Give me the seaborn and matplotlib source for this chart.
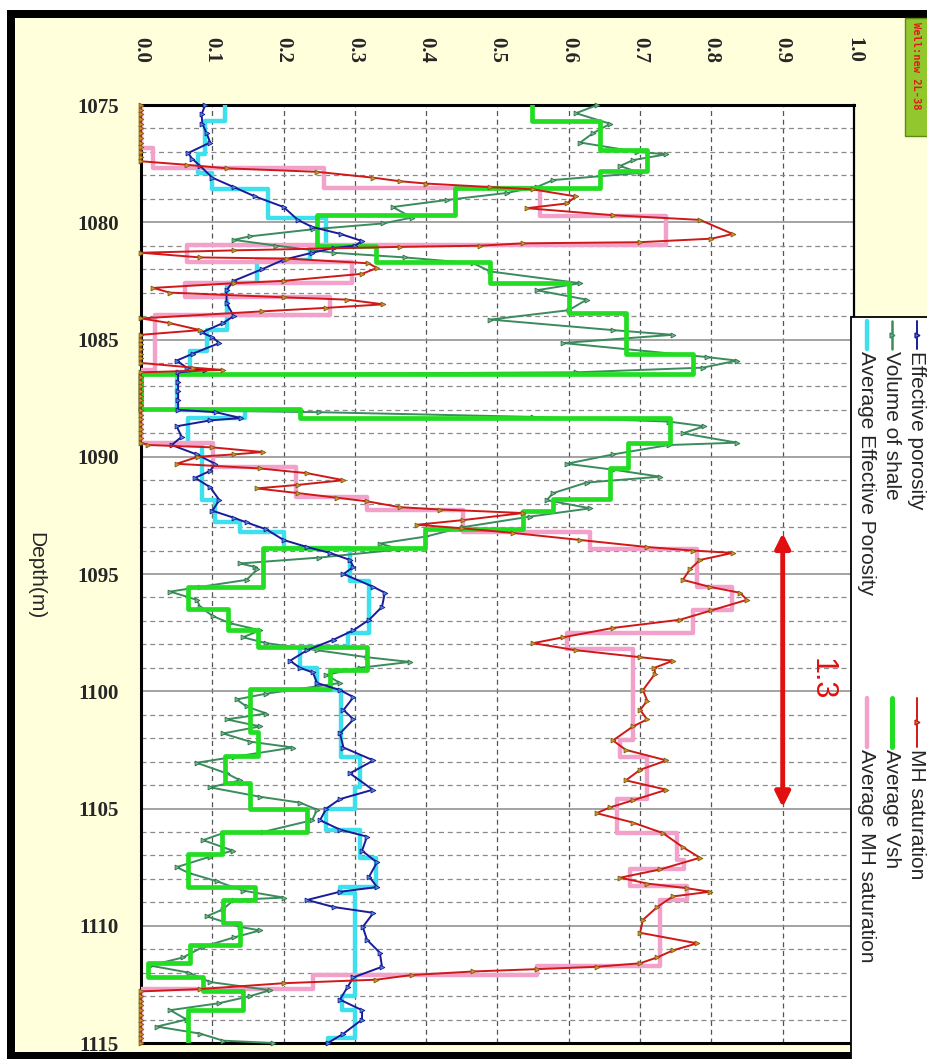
import numpy as np
import matplotlib
matplotlib.use("Agg")
import matplotlib.pyplot as plt
from matplotlib.patches import Rectangle
from matplotlib.lines import Line2D
import seaborn as sns

# ---- dados ----
depth_ticks = [1075, 1080, 1085, 1090, 1095, 1100, 1105, 1110, 1115]
value_ticks = [0.0, 0.1, 0.2, 0.3, 0.4, 0.5, 0.6, 0.7, 0.8, 0.9, 1.0]
value_labels = ["0.0", "0.1", "0.2", "0.3", "0.4", "0.5", "0.6", "0.7", "0.8", "0.9", "1.0"]

# Effective porosity
phi_depth = [1075.0, 1075.4, 1075.8, 1076.2, 1076.6, 1077.05, 1077.3, 1077.6, 1078.1, 1078.5,
             1078.9, 1079.35, 1079.9, 1080.2, 1080.5, 1080.8, 1081.0, 1081.1, 1081.3, 1081.6,
             1082.0, 1082.5, 1082.9, 1083.45, 1084.0, 1084.3, 1084.7, 1084.9, 1085.15, 1085.6,
             1085.9, 1086.2, 1086.3, 1086.4, 1086.8, 1087.2, 1087.6, 1088.0, 1088.1, 1088.35,
             1088.45, 1088.7, 1089.15, 1089.5, 1089.9, 1090.3, 1090.6, 1090.9, 1091.3, 1091.85,
             1092.3, 1092.6, 1092.8, 1093.1, 1093.55, 1093.85, 1094.1, 1094.4, 1094.7, 1095.0,
             1095.55, 1095.8, 1096.4, 1096.95, 1097.4, 1097.8, 1098.25, 1098.7, 1099.0, 1099.2,
             1099.65, 1099.95, 1100.25, 1100.8, 1101.2, 1101.8, 1102.4, 1102.95, 1103.5, 1104.2,
             1104.6, 1105.0, 1105.5, 1105.9, 1106.2, 1106.8, 1107.3, 1107.9, 1108.35, 1108.55,
             1108.9, 1109.2, 1109.45, 1110.05, 1110.6, 1111.15, 1111.75, 1112.2, 1112.6, 1113.15,
             1113.6, 1114.0, 1114.6, 1115.0]
phi_val = [0.090, 0.085, 0.086, 0.092, 0.097, 0.066, 0.072, 0.083, 0.100, 0.130,
           0.160, 0.200, 0.220, 0.240, 0.280, 0.310, 0.300, 0.270, 0.240, 0.200,
           0.170, 0.130, 0.120, 0.120, 0.130, 0.115, 0.085, 0.100, 0.110, 0.073,
           0.050, 0.064, 0.090, 0.052, 0.052, 0.052, 0.052, 0.052, 0.105, 0.140,
           0.097, 0.050, 0.057, 0.043, 0.078, 0.104, 0.097, 0.076, 0.097, 0.110,
           0.100, 0.130, 0.148, 0.176, 0.200, 0.233, 0.265, 0.293, 0.298, 0.284,
           0.326, 0.342, 0.338, 0.320, 0.298, 0.270, 0.233, 0.209, 0.223, 0.241,
           0.247, 0.279, 0.298, 0.284, 0.298, 0.279, 0.284, 0.326, 0.293, 0.325,
           0.279, 0.260, 0.251, 0.279, 0.317, 0.310, 0.331, 0.320, 0.331, 0.279,
           0.233, 0.270, 0.326, 0.311, 0.317, 0.335, 0.338, 0.298, 0.290, 0.279,
           0.310, 0.310, 0.284, 0.262]

# Volume of shale
vsh_depth = [1075.0, 1075.35, 1075.8, 1076.2, 1076.6, 1077.0, 1077.1, 1077.35, 1077.6, 1077.9,
             1078.2, 1078.5, 1078.75, 1079.05, 1079.35, 1079.8, 1080.05, 1080.3, 1080.6, 1080.75,
             1081.0, 1081.3, 1081.5, 1081.75, 1082.1, 1082.6, 1082.9, 1083.3, 1083.75, 1084.15,
             1084.6, 1084.8, 1085.15, 1085.75, 1085.9, 1086.2, 1086.4, 1086.5, 1086.7, 1086.9,
             1087.1, 1087.3, 1087.5, 1087.7, 1087.9, 1088.0, 1088.1, 1088.3, 1088.5, 1088.7,
             1089.0, 1089.4, 1089.5, 1089.9, 1090.3, 1090.55, 1090.85, 1091.1, 1091.55, 1091.85,
             1092.2, 1092.55, 1093.0, 1093.4, 1093.7, 1093.95, 1094.3, 1094.55, 1094.7, 1094.8,
             1095.25, 1095.55, 1095.75, 1096.1, 1096.4, 1096.8, 1097.1, 1097.4, 1097.7, 1097.95,
             1098.25, 1098.55, 1098.75, 1099.0, 1099.3, 1099.65, 1100.1, 1100.35, 1100.65, 1100.95,
             1101.2, 1101.5, 1101.8, 1102.15, 1102.4, 1102.8, 1103.05, 1103.5, 1103.8, 1104.1,
             1104.5, 1104.75, 1105.05, 1105.5, 1106.0, 1106.05, 1106.35, 1106.8, 1107.05, 1107.5,
             1107.75, 1108.1, 1108.5, 1108.8, 1108.9, 1109.3, 1109.6, 1110.05, 1110.2, 1110.5,
             1110.9, 1111.35, 1111.7, 1112.0, 1112.4, 1112.75, 1113.0, 1113.3, 1113.6, 1114.0,
             1114.3, 1114.6, 1114.9, 1115.0]
vsh_val = [0.640, 0.610, 0.658, 0.634, 0.616, 0.696, 0.737, 0.690, 0.672, 0.700,
           0.578, 0.555, 0.513, 0.429, 0.353, 0.380, 0.340, 0.241, 0.153, 0.130,
           0.190, 0.270, 0.370, 0.466, 0.490, 0.616, 0.555, 0.625, 0.600, 0.490,
           0.662, 0.746, 0.592, 0.794, 0.836, 0.788, 0.610, 0.0, 0.0, 0.0,
           0.0, 0.0, 0.0, 0.0, 0.0, 0.0, 0.250, 0.550, 0.740, 0.790,
           0.760, 0.836, 0.740, 0.662, 0.597, 0.662, 0.728, 0.625, 0.578, 0.569,
           0.630, 0.546, 0.452, 0.400, 0.335, 0.363, 0.250, 0.139, 0.160, 0.163,
           0.148, 0.083, 0.041, 0.078, 0.083, 0.101, 0.125, 0.167, 0.143, 0.176,
           0.247, 0.317, 0.377, 0.307, 0.260, 0.279, 0.176, 0.134, 0.148, 0.176,
           0.120, 0.167, 0.115, 0.153, 0.213, 0.130, 0.078, 0.120, 0.139, 0.097,
           0.167, 0.223, 0.247, 0.240, 0.171, 0.115, 0.087, 0.129, 0.097, 0.050,
           0.067, 0.106, 0.143, 0.200, 0.130, 0.115, 0.092, 0.139, 0.167, 0.130,
           0.087, 0.059, 0.013, 0.067, 0.097, 0.181, 0.153, 0.110, 0.041, 0.064,
           0.022, 0.083, 0.115, 0.185]

# MH saturation
mh_depth = [1075.0, 1075.2, 1075.4, 1075.6, 1075.8, 1076.0, 1076.2, 1076.4, 1076.6, 1076.8,
            1077.0, 1077.2, 1077.4, 1077.55, 1077.7, 1077.85, 1078.1, 1078.25, 1078.35, 1078.5,
            1078.6, 1078.9, 1079.2, 1079.4, 1079.7, 1079.9, 1080.5, 1080.7, 1080.85, 1080.9,
            1081.0, 1081.05, 1081.2, 1081.3, 1081.5, 1081.55, 1081.75, 1081.95, 1082.2, 1082.5,
            1082.6, 1082.8, 1083.0, 1083.2, 1083.3, 1083.5, 1083.65, 1083.8, 1084.1, 1084.3,
            1084.6, 1084.8, 1085.0, 1085.2, 1085.4, 1085.6, 1085.8, 1086.0, 1086.2, 1086.3,
            1086.4, 1086.6, 1086.8, 1087.0, 1087.2, 1087.4, 1087.6, 1087.8, 1088.0, 1088.2,
            1088.4, 1088.6, 1088.8, 1089.0, 1089.2, 1089.4, 1089.5, 1089.6, 1089.8, 1089.9,
            1090.0, 1090.3, 1090.5, 1090.7, 1091.0, 1091.2, 1091.35, 1091.55, 1091.75, 1091.9,
            1092.15, 1092.25, 1092.4, 1092.7, 1092.9, 1093.05, 1093.25, 1093.55, 1093.85, 1094.0,
            1094.1, 1094.4, 1094.8, 1095.25, 1095.55, 1095.8, 1096.1, 1096.55, 1096.95, 1097.3,
            1097.7, 1097.95, 1098.25, 1098.55, 1098.7, 1099.0, 1099.25, 1099.95, 1100.4, 1100.8,
            1101.2, 1101.5, 1102.1, 1102.5, 1102.95, 1103.35, 1103.8, 1104.2, 1104.65, 1104.95,
            1105.2, 1105.6, 1106.05, 1106.65, 1107.1, 1107.6, 1107.95, 1108.2, 1108.4, 1108.55,
            1108.75, 1109.2, 1109.75, 1110.3, 1110.75, 1111.05, 1111.35, 1111.6, 1111.75, 1111.85,
            1111.95, 1112.1, 1112.3, 1112.45, 1112.7, 1112.8, 1113.0, 1113.2, 1113.4, 1113.6,
            1113.8, 1114.0, 1114.2, 1114.4, 1114.6, 1114.8, 1115.0]
mh_val = [0.0, 0.0, 0.0, 0.0, 0.0, 0.0, 0.0, 0.0, 0.0, 0.0,
          0.0, 0.0, 0.0, 0.064, 0.120, 0.247, 0.326, 0.363, 0.400, 0.490,
          0.550, 0.610, 0.597, 0.541, 0.662, 0.784, 0.830, 0.800, 0.700, 0.536,
          0.475, 0.363, 0.130, 0.0, 0.083, 0.205, 0.319, 0.331, 0.310, 0.200,
          0.130, 0.017, 0.040, 0.200, 0.289, 0.340, 0.260, 0.170, 0.0, 0.040,
          0.083, 0.0, 0.0, 0.0, 0.0, 0.0, 0.0, 0.0, 0.073, 0.115,
          0.0, 0.0, 0.0, 0.0, 0.0, 0.0, 0.0, 0.0, 0.0, 0.0,
          0.0, 0.0, 0.0, 0.0, 0.0, 0.0, 0.010, 0.100, 0.171, 0.130,
          0.080, 0.050, 0.167, 0.233, 0.284, 0.220, 0.162, 0.220, 0.275, 0.317,
          0.363, 0.420, 0.536, 0.452, 0.387, 0.450, 0.522, 0.616, 0.710, 0.774,
          0.830, 0.784, 0.770, 0.760, 0.798, 0.840, 0.850, 0.800, 0.756, 0.662,
          0.592, 0.550, 0.610, 0.700, 0.746, 0.720, 0.721, 0.704, 0.710, 0.700,
          0.710, 0.690, 0.662, 0.680, 0.737, 0.700, 0.680, 0.737, 0.690, 0.658,
          0.639, 0.690, 0.732, 0.760, 0.784, 0.728, 0.672, 0.710, 0.766, 0.798,
          0.746, 0.724, 0.704, 0.700, 0.780, 0.746, 0.724, 0.700, 0.639, 0.555,
          0.466, 0.380, 0.330, 0.200, 0.083, 0.0, 0.0, 0.0, 0.0, 0.0,
          0.0, 0.0, 0.0, 0.0, 0.0, 0.0, 0.0]

# medias por intervalo (topo de cada degrau e valor)
avg_phi_top = [1075.0, 1075.7, 1077.1, 1077.9, 1078.6, 1079.8, 1081.0, 1081.6, 1082.6, 1084.6,
               1085.5, 1086.4, 1088.0, 1088.35, 1089.5, 1091.85, 1092.8, 1093.2, 1093.9, 1095.3,
               1097.5, 1098.1, 1099.0, 1099.95, 1102.8, 1104.1, 1105.0, 1105.9, 1107.1, 1108.35,
               1108.6, 1113.0, 1113.6, 1114.8]
avg_phi_val = [0.118, 0.090, 0.080, 0.100, 0.178, 0.260, 0.237, 0.162, 0.120, 0.092,
               0.069, 0.050, 0.146, 0.066, 0.086, 0.104, 0.139, 0.200, 0.293, 0.320,
               0.290, 0.223, 0.247, 0.280, 0.307, 0.300, 0.260, 0.307, 0.330, 0.279,
               0.300, 0.282, 0.300, 0.262]

avg_vsh_top = [1075.0, 1075.7, 1076.9, 1077.8, 1078.55, 1079.7, 1081.0, 1081.7, 1082.6, 1083.85,
               1085.6, 1086.45, 1087.95, 1088.35, 1089.4, 1090.5, 1091.8, 1092.3, 1093.1, 1093.9,
               1095.55, 1096.5, 1097.4, 1098.1, 1099.1, 1099.9, 1101.75, 1102.75, 1103.9, 1105.0,
               1106.0, 1106.95, 1108.35, 1108.9, 1109.9, 1110.8, 1111.6, 1112.2, 1112.8, 1113.6]
avg_vsh_val = [0.548, 0.644, 0.710, 0.644, 0.440, 0.247, 0.330, 0.490, 0.600, 0.680,
               0.774, 0.0, 0.223, 0.742, 0.683, 0.658, 0.578, 0.536, 0.398, 0.171,
               0.066, 0.122, 0.164, 0.317, 0.265, 0.153, 0.164, 0.118, 0.153, 0.233,
               0.114, 0.066, 0.160, 0.115, 0.139, 0.069, 0.010, 0.087, 0.143, 0.066]

avg_mh_top = [1075.0, 1076.85, 1077.7, 1078.55, 1079.75, 1080.95, 1081.7, 1082.6, 1083.2, 1083.95,
              1086.3, 1089.4, 1090.45, 1091.7, 1092.25, 1093.2, 1093.95, 1095.55, 1096.55, 1097.5,
              1098.2, 1102.1, 1102.8, 1104.6, 1106.05, 1107.2, 1107.6, 1108.3, 1108.9, 1111.7,
              1112.1, 1112.7]
avg_mh_val = [0.0, 0.017, 0.256, 0.560, 0.737, 0.064, 0.296, 0.062, 0.265, 0.020,
              0.0, 0.101, 0.218, 0.317, 0.452, 0.630, 0.780, 0.829, 0.774, 0.597,
              0.690, 0.672, 0.709, 0.667, 0.752, 0.761, 0.686, 0.766, 0.728, 0.555,
              0.241, 0.0]

legend_col1 = ["Effective porosity", "Volume of shale", "Average Effective Porosity"]
legend_col2 = ["MH saturation", "Average Vsh", "Average MH saturation"]


def degraus(tops, vals, base=1115.0):
    # transforma (topo, valor) em poligonal de degraus vertical
    d, v = [], []
    fundos = tops[1:] + [base]
    for t, b, val in zip(tops, fundos, vals):
        d += [t, b]
        v += [val, val]
    return v, d


W, H = 928, 1059
fx = lambda x: x / W
fy = lambda y: 1 - y / H

sns.set_theme(style="white")
plt.rcParams['font.family'] = ['Liberation Sans', 'DejaVu Sans']

fig = plt.figure(figsize=(W / 100, H / 100), dpi=100, facecolor="white")

# moldura preta + fundo amarelo
fig.add_artist(Rectangle((fx(7), 0), 1.0, fy(10), transform=fig.transFigure,
                         facecolor="black", edgecolor="none", zorder=0))
fig.add_artist(Rectangle((fx(15), fy(1052)), 1.0, fy(18) - fy(1052), transform=fig.transFigure,
                         facecolor="#FFFFDC", edgecolor="none", zorder=0))

ax = fig.add_axes([fx(141), fy(1043), fx(854) - fx(141), fy(105) - fy(1043)])
ax.set_facecolor("white")

# degraus (medias)
v, d = degraus(avg_phi_top, avg_phi_val)
sns.lineplot(x=v, y=d, orient="y", sort=False, estimator=None, ax=ax,
             color="#3FE0EE", lw=3.2, legend=False, zorder=3)
v, d = degraus(avg_mh_top, avg_mh_val)
sns.lineplot(x=v, y=d, orient="y", sort=False, estimator=None, ax=ax,
             color="#F2A2CA", lw=3.2, legend=False, zorder=3)

# curvas brutas
sns.lineplot(x=vsh_val, y=vsh_depth, orient="y", sort=False, estimator=None, ax=ax,
             color="#3A8C5C", lw=1.4, marker=">", markersize=3.5, markerfacecolor="#74B888",
             markeredgecolor="#2E7048", markeredgewidth=0.6, legend=False, zorder=4, clip_on=False)
v, d = degraus(avg_vsh_top, avg_vsh_val)
sns.lineplot(x=v, y=d, orient="y", sort=False, estimator=None, ax=ax,
             color="#22DD22", lw=3.4, legend=False, zorder=5)
sns.lineplot(x=phi_val, y=phi_depth, orient="y", sort=False, estimator=None, ax=ax,
             color="#1A1A9A", lw=1.4, marker=">", markersize=3.5, markerfacecolor="#4A90D0",
             markeredgecolor="#1A1A9A", markeredgewidth=0.6, legend=False, zorder=6, clip_on=False)
sns.lineplot(x=mh_val, y=mh_depth, orient="y", sort=False, estimator=None, ax=ax,
             color="#D01818", lw=1.4, marker=">", markersize=3.5, markerfacecolor="#D89030",
             markeredgecolor="#7A6010", markeredgewidth=0.6, legend=False, zorder=6, clip_on=False)

# eixos
ax.set_xlim(0, 1)
ax.set_ylim(1115, 1075)
ax.xaxis.tick_top()
ax.set_xticks(value_ticks)
ax.set_xticklabels(value_labels)
ax.set_yticks(depth_ticks)
ax.set_yticks(np.arange(1075, 1116, 1), minor=True)
ax.tick_params(axis="x", which="both", length=0, pad=30, labelrotation=-90, labelsize=15)
ax.tick_params(axis="y", which="both", length=0, pad=16, labelsize=15)
for lab in ax.get_xticklabels() + ax.get_yticklabels():
    lab.set_fontfamily("Liberation Serif")
    lab.set_fontweight("bold")
ax.set_xlabel("")
ax.set_ylabel("")

ax.set_axisbelow(True)
ax.grid(which="minor", axis="y", ls=(0, (4, 3)), color="#8A8A8A", lw=0.9)
ax.grid(which="major", axis="y", ls="-", color="#8A8A8A", lw=1.1)
ax.grid(which="major", axis="x", ls=(0, (4, 3)), color="#555555", lw=0.9)
for side in ["top", "left", "bottom"]:
    ax.spines[side].set_linewidth(2.2)
    ax.spines[side].set_color("black")
ax.spines["right"].set_linewidth(1.6)
ax.spines["right"].set_color("black")

# seta 1.3
ax.annotate("", xy=(0.90, 1093.25), xytext=(0.90, 1104.95),
            arrowprops=dict(arrowstyle="<|-|>", color="#E01010", lw=3.5,
                            mutation_scale=22, shrinkA=0, shrinkB=0), zorder=7)
ax.text(0.954, 1099.5, "1.3", rotation=-90, color="#E01010", fontsize=22,
        ha="center", va="center", zorder=7)

fig.text(fx(36), fy(576), "Depth(m)", rotation=-90, ha="center", va="center", fontsize=15)

# legenda desenhada a mao (rodada)
fig.add_artist(Rectangle((fx(851), fy(1060)), 0.2, fy(317) - fy(1060), transform=fig.transFigure,
                         facecolor="white", edgecolor="black", lw=1.3, zorder=8))
row_x = [917, 892, 867]
estilos1 = [dict(color="#1A1A9A", lw=1.4, marker=">", ms=3.5, mfc="#4A90D0", markevery=[1]),
            dict(color="#3A8C5C", lw=1.8, marker=">", ms=3.5, mfc="#74B888", markevery=[1]),
            dict(color="#3FE0EE", lw=3.2)]
estilos2 = [dict(color="#D01818", lw=1.4, marker=">", ms=3.5, mfc="#D89030", markevery=[1]),
            dict(color="#22DD22", lw=3.6),
            dict(color="#F2A2CA", lw=3.2)]
for x, nome, est in zip(row_x, legend_col1, estilos1):
    fig.add_artist(Line2D([fx(x)] * 3, [fy(321), fy(335), fy(349)], transform=fig.transFigure,
                          zorder=9, **est))
    fig.text(fx(x), fy(351), nome, rotation=-90, ha="center", va="top", fontsize=15, zorder=9)
for x, nome, est in zip(row_x, legend_col2, estilos2):
    fig.add_artist(Line2D([fx(x)] * 3, [fy(698), fy(722), fy(747)], transform=fig.transFigure,
                          zorder=9, **est))
    fig.text(fx(x), fy(749), nome, rotation=-90, ha="center", va="top", fontsize=15, zorder=9)

# etiqueta do poco
fig.add_artist(Rectangle((fx(905), fy(136)), fx(30), fy(18) - fy(136), transform=fig.transFigure,
                         facecolor="#92C82E", edgecolor="#5A8A10", lw=1, zorder=8))
fig.text(fx(916), fy(22), "Well:new 2L-38", rotation=-90, ha="center", va="top",
         fontsize=7.5, fontweight="bold", color="#E01A1A", family="DejaVu Sans Mono", zorder=9)

fig.savefig("out.png", dpi=100, facecolor=fig.get_facecolor())
